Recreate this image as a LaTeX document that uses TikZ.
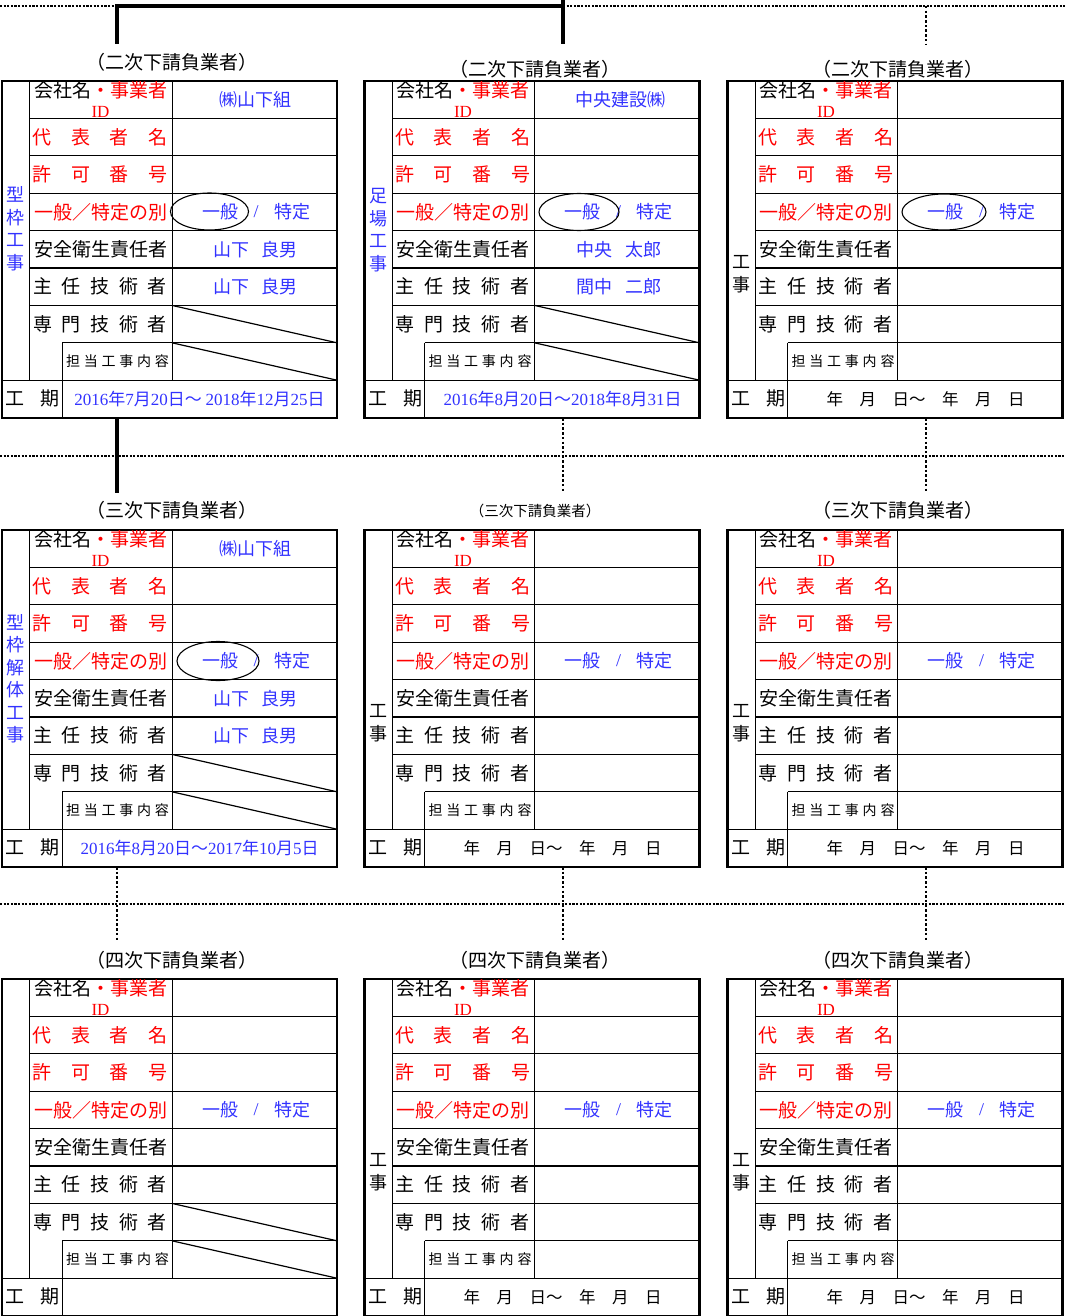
\documentclass[tikz,border=0pt]{standalone}
\usepackage{fontspec}
\setmainfont{Noto Sans CJK JP}
\newfontfamily\lat{Liberation Serif}
\definecolor{jred}{RGB}{255,0,0}
\definecolor{jblue}{RGB}{50,50,255}
\newcommand\dd[1]{{\lat #1}}
\tikzset{
  frame/.style={draw, line width=2.5pt, minimum width=335pt, minimum height=337pt, inner sep=0pt},
  hl/.style={line width=1.3pt},
  vl/.style={line width=0.9pt},
  lab/.style={font=\fontsize{19}{19}\selectfont, inner sep=0pt},
  idt/.style={font=\lat\fontsize{17}{17}\selectfont, text=jred, inner sep=0pt},
  sml/.style={font=\fontsize{14}{14}\selectfont, inner sep=0pt},
  val/.style={font=\fontsize{18}{18}\selectfont, text=jblue, inner sep=0pt},
  vert/.style={font=\fontsize{18}{22.5}\selectfont, align=center, inner sep=0pt},
  datet/.style={font=\fontsize{17}{17}\selectfont, text=jblue, inner sep=0pt},
  blankd/.style={font=\fontsize{16.5}{16.5}\selectfont, inner sep=0pt},
  hdr/.style={font=\fontsize{19}{19}\selectfont, inner sep=0pt},
  diag/.style={line width=1.2pt},
  oval/.style={line width=1.1pt},
  thickc/.style={line width=3.5pt},
  dotc/.style={line width=2pt, dash pattern=on 2.2pt off 1.4pt},
  dotv/.style={line width=1.8pt, dash pattern=on 2.5pt off 2.2pt}
}
% grid and fixed labels of one block
\newcommand\blk[3]{%
\begin{scope}[shift={(#2,#3)}]
\draw[vl] (27.5,0) -- (27.5,299.2);
\draw[vl] (170,0) -- (170,299.2);
\draw[vl] (60,261.8) -- (60,337);
\foreach \i in {1,...,6} \draw[hl] (27.5,37.4*\i) -- (335,37.4*\i);
\draw[hl] (60,261.8) -- (335,261.8);
\draw[hl] (0,299.2) -- (335,299.2);
\node[frame] (#1) at (167.5,168.5) {};
\node[lab] (#1-a1) at (98.5,9) {会社名\textcolor{jred}{・事業者}};
\node[idt] (#1-a1b) at (98.5,30.5) {ID};
\node[lab,text=jred] (#1-a2) at (98,56.1) {\makebox[135pt]{代\hfill 表\hfill 者\hfill 名}};
\node[lab,text=jred] (#1-a3) at (98,93.5) {\makebox[135pt]{許\hfill 可\hfill 番\hfill 号}};
\node[lab,text=jred] (#1-a4) at (98.5,130.9) {一般／特定の別};
\node[lab] (#1-a5) at (98.5,168.3) {安全衛生責任者};
\node[lab] (#1-a6) at (98,205.7) {\makebox[134pt]{主\hfill 任\hfill 技\hfill 術\hfill 者}};
\node[lab] (#1-a7) at (98,243.1) {\makebox[134pt]{専\hfill 門\hfill 技\hfill 術\hfill 者}};
\node[sml] (#1-a8) at (115.5,280.5) {\makebox[103pt]{担\hfill 当\hfill 工\hfill 事\hfill 内\hfill 容}};
\node[lab] (#1-a9) at (30.5,317.9) {\makebox[54pt]{工\hfill 期}};
\node[val] (#1-g1) at (218,130.9) {一般};
\node[val] (#1-g2) at (254,130.9) {\lat /};
\node[val] (#1-g3) at (290,130.9) {特定};
\end{scope}}
\newcommand\diags[3]{%
\begin{scope}[shift={(#2,#3)}]
\coordinate (#1-d1) at (170,224.4); \coordinate (#1-d2) at (335,261.8);
\coordinate (#1-d3) at (335,299.2);
\draw[diag] (#1-d1) -- (#1-d2);
\draw[diag] (#1-d2 -| #1-d1) -- (#1-d3);
\end{scope}}
\begin{document}
\begin{tikzpicture}[x=1pt,y=-1pt]
\useasboundingbox (0,0) rectangle (1065,1316);
% blocks
\blk{b11}{2}{81}\blk{b12}{364.5}{81}\blk{b13}{727.5}{81}
\blk{b21}{2}{530}\blk{b22}{364.5}{530}\blk{b23}{727.5}{530}
\blk{b31}{2}{979}\blk{b32}{364.5}{979}\blk{b33}{727.5}{979}
\diags{b11}{2}{81}\diags{b12}{364.5}{81}\diags{b21}{2}{530}\diags{b31}{2}{979}
% block 1-1
\begin{scope}[shift={(2,81)}]
\node[vert,text=jblue] (b11-k) at (13.5,147.5) {型\\枠\\工\\事};
\node[val] (b11-v1) at (253,19) {㈱山下組};
\draw[oval] (207.5,130.5) ellipse [x radius=39pt, y radius=18.5pt];
\node[val] (b11-v5) at (253.5,168.3) {山下\hspace{13pt}良男};
\node[val] (b11-v6) at (253.5,205.7) {山下\hspace{13pt}良男};
\node[datet] (b11-v9) at (197.5,317.9) {\dd{2016}年\dd{7}月\dd{20}日～ \dd{2018}年\dd{12}月\dd{25}日};
\end{scope}
% block 1-2
\begin{scope}[shift={(364.5,81)}]
\node[vert,text=jblue] (b12-k) at (13.5,149) {足\\場\\工\\事};
\node[val] (b12-v1) at (255.5,19) {中央建設㈱};
\draw[oval] (214.5,131) ellipse [x radius=40pt, y radius=18.5pt];
\node[val] (b12-v5) at (254.5,168.3) {中央\hspace{13pt}太郎};
\node[val] (b12-v6) at (254.5,205.7) {間中\hspace{13pt}二郎};
\node[datet] (b12-v9) at (198,317.9) {\dd{2016}年\dd{8}月\dd{20}日～\dd{2018}年\dd{8}月\dd{31}日};
\end{scope}
% block 1-3
\begin{scope}[shift={(727.5,81)}]
\node[vert] (b13-k) at (14,193) {工\\事};
\draw[oval] (216.5,131) ellipse [x radius=42pt, y radius=18pt];
\node[blankd] (b13-v9) at (198,317.9) {年　月　日～　年　月　日};
\end{scope}
% block 2-1
\begin{scope}[shift={(2,530)}]
\node[vert,text=jblue] (b21-k) at (13.5,148.5) {型\\枠\\解\\体\\工\\事};
\node[val] (b21-v1) at (253,19) {㈱山下組};
\draw[oval] (216,131) ellipse [x radius=41pt, y radius=19.5pt];
\node[val] (b21-v5) at (253.5,168.3) {山下\hspace{13pt}良男};
\node[val] (b21-v6) at (253.5,205.7) {山下\hspace{13pt}良男};
\node[datet] (b21-v9) at (197.5,317.9) {\dd{2016}年\dd{8}月\dd{20}日～\dd{2017}年\dd{10}月\dd{5}日};
\end{scope}
% block 2-2, 2-3
\begin{scope}[shift={(364.5,530)}]
\node[vert] (b22-k) at (14,193) {工\\事};
\node[blankd] (b22-v9) at (198,317.9) {年　月　日～　年　月　日};
\end{scope}
\begin{scope}[shift={(727.5,530)}]
\node[vert] (b23-k) at (14,193) {工\\事};
\node[blankd] (b23-v9) at (198,317.9) {年　月　日～　年　月　日};
\end{scope}
% block 3-2, 3-3
\begin{scope}[shift={(364.5,979)}]
\node[vert] (b32-k) at (14,193) {工\\事};
\node[blankd] (b32-v9) at (198,317.9) {年　月　日～　年　月　日};
\end{scope}
\begin{scope}[shift={(727.5,979)}]
\node[vert] (b33-k) at (14,193) {工\\事};
\node[blankd] (b33-v9) at (198,317.9) {年　月　日～　年　月　日};
\end{scope}
% headers
\node[hdr] (h11) at (172,62) {（二次下請負業者）};
\node[hdr] (h12) at (535,69) {（二次下請負業者）};
\node[hdr] (h13) at (898,69) {（二次下請負業者）};
\node[hdr] (h21) at (172,510) {（三次下請負業者）};
\node[hdr,font=\fontsize{14.5}{14.5}\selectfont] (h22) at (535,511) {（三次下請負業者）};
\node[hdr] (h23) at (898,510) {（三次下請負業者）};
\node[hdr] (h31) at (172,960) {（四次下請負業者）};
\node[hdr] (h32) at (535,960) {（四次下請負業者）};
\node[hdr] (h33) at (898,960) {（四次下請負業者）};
% connectors
\coordinate (t0) at (0,6); \coordinate (t1) at (117,6); \coordinate (t2) at (563,6);
\coordinate (t3) at (1065,6); \coordinate (t2u) at (563,0);
\coordinate (c11) at (117,44); \coordinate (c12) at (563,44);
\coordinate (t4) at (926,6); \coordinate (c13) at (926,44);
\draw[dotc] (t0) -- (t1);
\draw[dotc] (t2) -- (t3);
\draw[thickc] (c11) -- (t1) -- (t2);
\draw[thickc] (t2u) -- (c12);
\draw[dotv] (t4) -- (c13);
% row 1 -> row 2
\coordinate (m0) at (0,456); \coordinate (m1) at (1065,456);
\coordinate (s11) at (117,418); \coordinate (n21) at (117,493);
\coordinate (s12) at (563,418); \coordinate (n22) at (563,493);
\coordinate (s13) at (926,418); \coordinate (n23) at (926,493);
\draw[dotc] (m0) -- (m1);
\draw[thickc] (s11) -- (n21);
\draw[dotv] (s12) -- (n22);
\draw[dotv] (s13) -- (n23);
% row 2 -> row 3
\coordinate (p0) at (0,904); \coordinate (p1) at (1065,904);
\coordinate (s21) at (117,867); \coordinate (n31) at (117,942);
\coordinate (s22) at (563,867); \coordinate (n32) at (563,942);
\coordinate (s23) at (926,867); \coordinate (n33) at (926,942);
\draw[dotc] (p0) -- (p1);
\draw[dotv] (s21) -- (n31);
\draw[dotv] (s22) -- (n32);
\draw[dotv] (s23) -- (n33);
\end{tikzpicture}
\end{document}
